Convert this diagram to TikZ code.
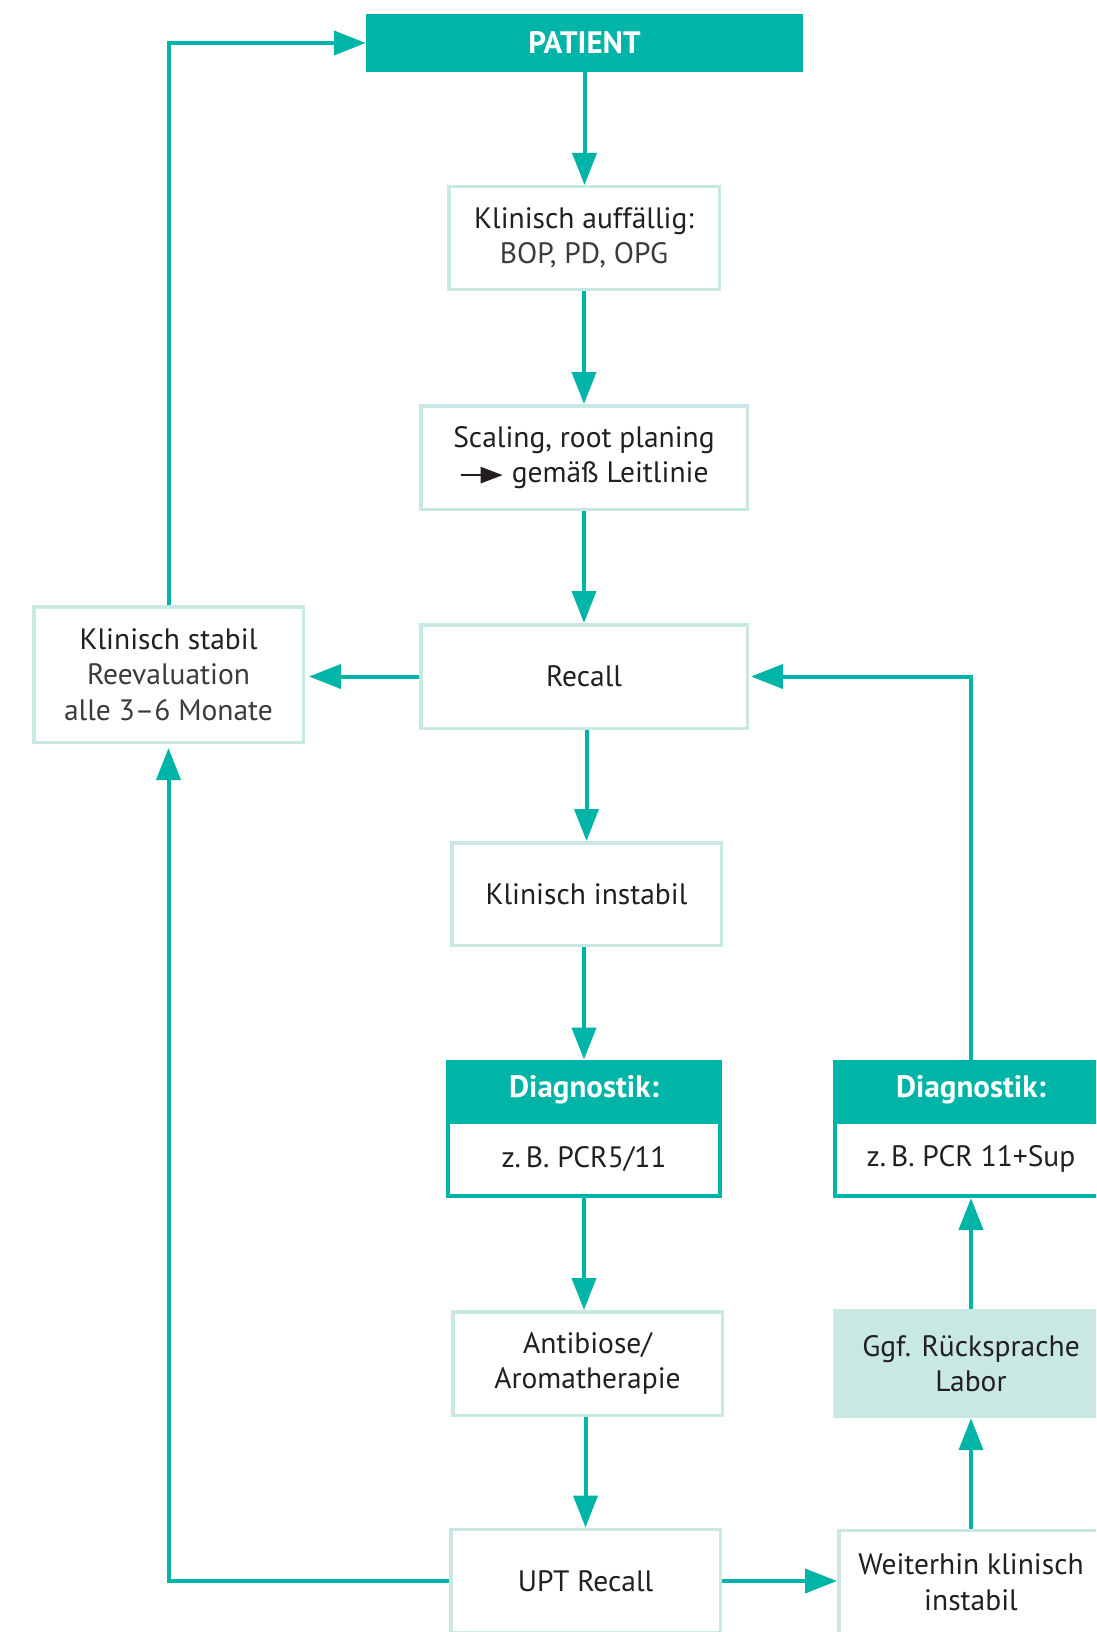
\documentclass[tikz,border=0pt]{standalone}
\usepackage{fontspec}
\setmainfont{PT Sans}
\usetikzlibrary{arrows.meta}
\definecolor{tealM}{HTML}{00B5A8}
\definecolor{tealL}{HTML}{C8E8E4}
\definecolor{ink}{HTML}{231F20}
\definecolor{soft}{HTML}{3C3A3B}
\begin{document}
\begin{tikzpicture}[x=1pt,y=-1pt,
  txt/.style={font=\fontsize{29.5}{35.5}\selectfont, text=ink, align=center, inner sep=0pt},
  lbox/.style={txt, draw=tealL, line width=3.5pt, fill=white},
  hbox/.style={txt, fill=tealM, text=white, font=\fontsize{31}{36}\selectfont\bfseries, minimum width=276pt, minimum height=60.5pt},
  dbody/.style={txt, draw=tealM, line width=4pt, fill=white, minimum width=272pt, minimum height=74pt},
  conn/.style={draw=tealM, line width=4pt, -{Triangle[length=32pt,width=24pt]}}
]
\clip (0,0) rectangle (1096,1632);
\fill[white] (0,0) rectangle (1096,1632);

\node[hbox, minimum width=437pt, minimum height=58.5pt] (patient) at (584.5,43) {PATIENT};
\node[lbox, minimum width=270.5pt, minimum height=102.5pt] (auff) at (584,238)
  {Klinisch auffällig:\\{\color{soft}BOP, PD, OPG}};
\node[lbox, minimum width=326.5pt, minimum height=103.5pt] (scal) at (584,457.5)
  {Scaling, root planing\\\tikz[baseline={(0pt,-7.5pt)}]\draw[ink, line width=2.5pt, -{Triangle[length=22pt,width=16pt]}] (0pt,0pt) -- (42pt,0pt);\ gemäß Leitlinie};
\node[lbox, minimum width=326.5pt, minimum height=103.5pt] (recall) at (584,676.5) {Recall};
\node[lbox, minimum width=269.5pt, minimum height=135.5pt] (stabil) at (168.5,674.5)
  {Klinisch stabil\\{\color{soft}Reevaluation}\\{\color{soft}alle 3–6 Monate}};
\node[lbox, minimum width=269.5pt, minimum height=102.5pt] (instab) at (586.5,894) {Klinisch instabil};
\node[hbox] (diagLh) at (584,1090) {Diagnostik:};
\node[dbody] (diagLb) at (584,1159) {z.\,B. PCR5/11};
\node[lbox, minimum width=269.5pt, minimum height=103.5pt] (anti) at (587.5,1363.5) {Antibiose/\\Aromatherapie};
\node[lbox, minimum width=269.5pt, minimum height=103.5pt] (upt) at (585.5,1581) {UPT Recall};
\node[hbox] (diagRh) at (971,1090) {Diagnostik:};
\node[dbody] (diagRb) at (971,1159) {z.\,B. PCR 11+Sup};
\node[txt, fill=tealL, minimum width=276pt, minimum height=109pt] (ggf) at (971,1363.5) {Ggf. Rücksprache\\Labor};
\node[lbox, minimum width=264.5pt, minimum height=103.5pt] (weiter) at (971,1582) {Weiterhin klinisch\\instabil};

\draw[conn] (patient.south) -- (patient.south |- auff.north);
\draw[conn] (auff.south) -- (auff.south |- scal.north);
\draw[conn] (scal.south) -- (scal.south |- recall.north);
\draw[conn, shorten >=4pt] (recall.west) -- (recall.west -| stabil.east);
\draw[conn] (stabil.north) |- (patient.west);
\draw[conn] (recall.south -| instab.north) -- (instab.north);
\draw[conn] (instab.south -| diagLh.north) -- (diagLh.north);
\draw[conn] (diagLb.south) -- (diagLb.south |- anti.north);
\draw[conn] (anti.south -| upt.north) -- (upt.north);
\draw[conn, shorten >=4pt] (upt.west) -| (stabil.south);
\draw[conn] (upt.east) -- (upt.east -| weiter.west);
\draw[conn] (weiter.north) -- (ggf.south);
\draw[conn] (ggf.north) -- (diagRb.south);
\draw[conn, shorten >=2pt] (diagRh.north) |- (recall.east);
\end{tikzpicture}
\end{document}
